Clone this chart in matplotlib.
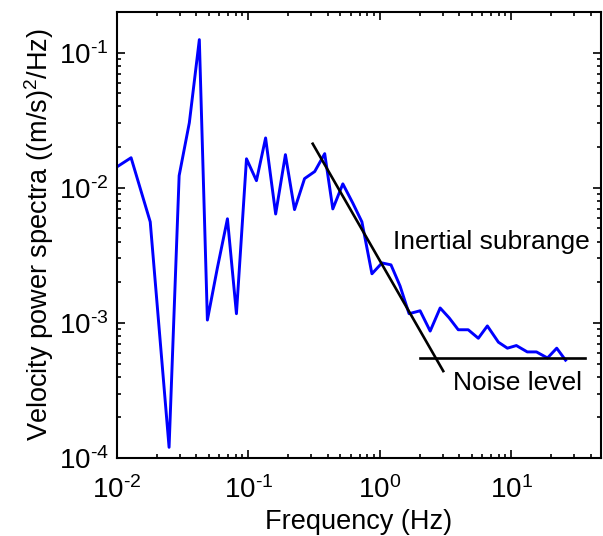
import numpy as np
import matplotlib.pyplot as plt
from matplotlib.ticker import FuncFormatter

plt.rcParams['font.family'] = ['Liberation Sans', 'DejaVu Sans']
plt.rcParams['mathtext.fontset'] = 'custom'
plt.rcParams['mathtext.rm'] = 'Liberation Sans'
plt.rcParams['mathtext.it'] = 'Liberation Sans:italic'
plt.rcParams['axes.unicode_minus'] = False

# spectrum
freq = [0.01, 0.0128, 0.0179, 0.0249, 0.0297, 0.0355, 0.0423, 0.0487, 0.058, 0.0692,
        0.081, 0.0966, 0.115, 0.135, 0.161, 0.191, 0.224, 0.267, 0.319, 0.380,
        0.438, 0.522, 0.622, 0.729, 0.869, 1.036, 1.213, 1.421, 1.665, 2.02,
        2.41, 2.87, 3.36, 3.94, 4.69, 5.60, 6.56, 7.96, 9.32, 10.9,
        13.2, 15.5, 18.8, 22.1, 25.8]
psd = [0.0143, 0.0167, 0.0056, 1.2e-4, 0.0123, 0.0303, 0.125, 1.05e-3, 2.55e-3, 5.9e-3,
       1.17e-3, 0.0164, 0.0113, 0.0234, 6.4e-3, 0.0176, 6.9e-3, 0.0117, 0.0132, 0.0179,
       6.98e-3, 0.0107, 7.7e-3, 5.6e-3, 2.31e-3, 2.78e-3, 2.69e-3, 1.88e-3, 1.17e-3, 1.23e-3,
       8.7e-4, 1.29e-3, 1.09e-3, 8.9e-4, 8.9e-4, 7.7e-4, 9.5e-4, 7.2e-4, 6.5e-4, 6.8e-4,
       6.1e-4, 6.1e-4, 5.5e-4, 6.5e-4, 5.3e-4]

# -5/3 slope guide and noise floor
slope_f = [0.308, 3.03]
slope_p = [0.0212, 4.4e-4]
noise_f = [2.0, 36.0]
noise_p = [5.5e-4, 5.5e-4]


def pow10(v, pos):
    e = int(round(np.log10(v)))
    return r'$10^{\text{%d}}$' % e


fig = plt.figure(figsize=(6.03, 5.36), dpi=100)
ax = fig.add_axes([0.194, 0.1455, 0.8027, 0.832])

ax.loglog(freq, psd, color='#0000ff', lw=2.1)
ax.loglog(slope_f, slope_p, color='black', lw=1.9)
ax.loglog(noise_f, noise_p, color='black', lw=1.9)

ax.set_xlim(0.01, 48)
ax.set_ylim(1e-4, 0.2)

ax.text(1.26, 4.0e-3, 'Inertial subrange', fontsize=19, va='center', ha='left')
ax.text(3.6, 3.6e-4, 'Noise level', fontsize=19, va='center', ha='left')

ax.set_xlabel('Frequency (Hz)', fontsize=19.5, labelpad=4)
ax.set_ylabel('Velocity power spectra ((m/s)$^2$/Hz)', fontsize=19.5, labelpad=2)

ax.xaxis.set_major_formatter(FuncFormatter(pow10))
ax.yaxis.set_major_formatter(FuncFormatter(pow10))
ax.tick_params(which='both', direction='in', top=True, right=True, labelsize=20, width=1.2)
ax.tick_params(which='major', length=6)
ax.tick_params(axis='x', which='major', pad=13)
ax.tick_params(axis='y', which='major', pad=6)
ax.tick_params(which='minor', length=3)
for s in ax.spines.values():
    s.set_linewidth(1.5)

plt.savefig('out.png', dpi=100)
